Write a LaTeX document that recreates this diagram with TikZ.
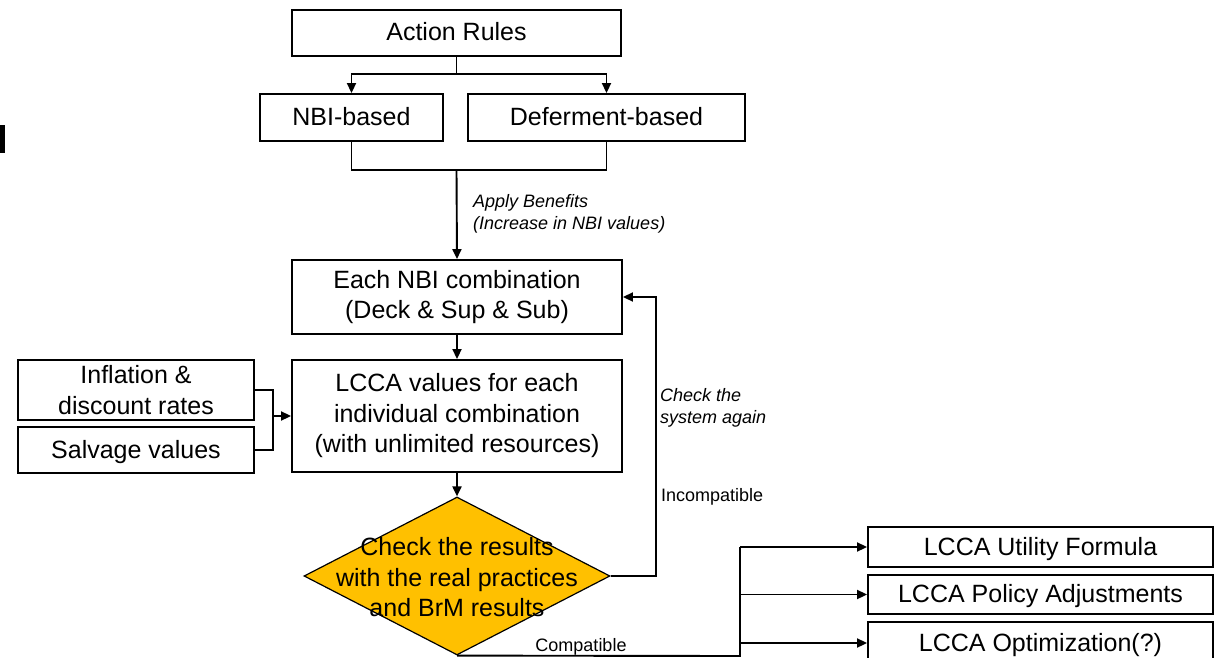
\documentclass[tikz,border=0pt]{standalone}
\usepackage{fontspec}
\setmainfont{Liberation Sans}
\usetikzlibrary{arrows.meta,shapes.geometric}

\definecolor{decision}{HTML}{FFC000}

\tikzset{
  box/.style={draw, line width=1.9pt, inner sep=0pt, align=center,
    font=\fontsize{25}{30.5}\selectfont},
  onebox/.style={box, text height=16pt, text depth=0pt},
  flow/.style={line width=1.9pt},
  arr/.style={flow, -{Triangle[length=10pt,width=9pt]}},
  note/.style={font=\fontsize{18}{22}\selectfont\itshape, align=left, inner sep=0pt},
  plain/.style={font=\fontsize{18}{22}\selectfont, inner sep=0pt},
}

\begin{document}
\begin{tikzpicture}[x=1pt,y=-1pt]
\useasboundingbox (0,0) rectangle (1215,658);
\fill[white] (0,0) rectangle (1215,658);

% fragment of a glyph at the left edge
\fill[black] (0,125) rectangle (4.5,153);

% boxes
\node[onebox, minimum width=329pt, minimum height=46pt] (act) at (456.5,33) {Action Rules};
\node[onebox, minimum width=183pt, minimum height=47pt] (nbi) at (351.5,117.5) {NBI-based};
\node[onebox, minimum width=277pt, minimum height=47pt] (def) at (606.5,117.5) {Deferment-based};
\node[box, minimum width=330pt, minimum height=74pt] (comb) at (457,297) {Each NBI combination\\(Deck \& Sup \& Sub)};
\node[box, minimum width=330pt, minimum height=112pt] (lcca) at (457,416) {LCCA values for each\\individual combination\\(with unlimited resources)};
\node[box, minimum width=236pt, minimum height=60pt] (infl) at (136,390) {Inflation \&\\discount rates};
\node[onebox, minimum width=236pt, minimum height=46pt] (salv) at (136,450) {Salvage values};

% decision
\node[diamond, draw, line width=1.2pt, fill=decision, minimum width=306pt, minimum height=158pt, inner sep=0pt] (chk) at (457,576) {};
\node[box, draw=none] (chktext) at ([yshift=-1.5pt]chk.center) {Check the results\\with the real practices\\and BrM results};

% outcomes
\node[onebox, minimum width=345pt, minimum height=40pt] (out1) at (1040.5,547) {LCCA Utility Formula};
\node[onebox, minimum width=345pt, minimum height=39pt] (out2) at (1040.5,594.5) {LCCA Policy Adjustments};
\node[onebox, minimum width=345pt, minimum height=42pt] (out3) at (1040.5,643) {LCCA Optimization(?)};

% split of the action rules
\coordinate (split) at (456.5,74);
\draw[flow] (act.south) -- (split);
\draw[arr] (split) -| (nbi.north);
\draw[arr] (split) -| (def.north);

% merge into the combinations
\coordinate (join) at (456.5,170);
\draw[flow] (nbi.south) |- (join);
\draw[flow] (def.south) |- (join);
\draw[arr] (join) -- (comb.north);
\node[note, anchor=west] (benefit) at (473,214) {Apply Benefits\\(Increase in NBI values)};

\draw[arr] (comb.south) -- (lcca.north);

% inputs to the LCCA values
\coordinate (inmid) at (273,416);
\draw[flow] (infl.east) -| (inmid);
\draw[flow] (salv.east) -| (inmid);
\draw[arr] (inmid) -- (lcca.west);

\draw[arr] (lcca.south) -- (chk.north);

% loop back when incompatible
\coordinate (loop) at (656,297);
\draw[arr] (chk.east) -| (loop) -- (comb.east);
\node[note, anchor=west] (again) at (660,408) {Check the\\system again};
\node[plain, anchor=west] (incomp) at (661,497) {Incompatible};

% compatible branch
\coordinate (bus) at (740,656);
\draw[flow] (chk.south) -- (bus) -- (bus |- out1.west);
\draw[arr] (bus |- out1.west) -- (out1.west);
\draw[arr] (bus |- out2.west) -- (out2.west);
\draw[arr] (bus |- out3.west) -- (out3.west);
\node[plain] (comp) at (581,647) {Compatible};
\end{tikzpicture}
\end{document}
